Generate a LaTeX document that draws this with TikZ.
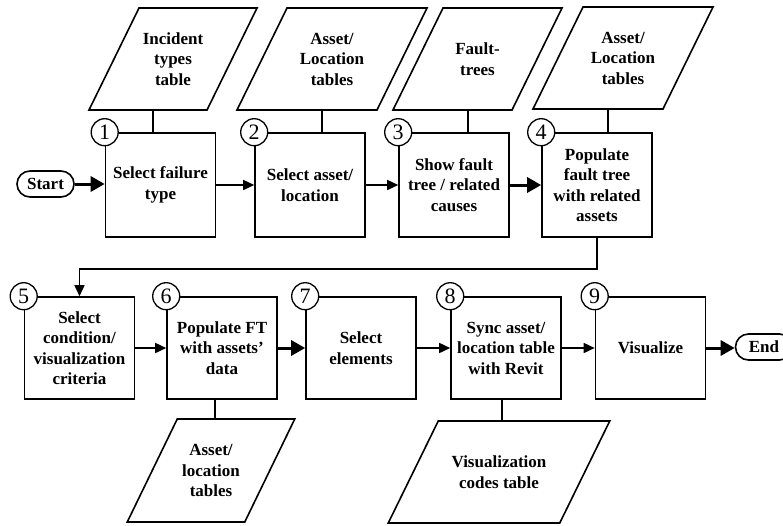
\documentclass[tikz,border=0pt]{standalone}
\usepackage{fontspec}
\setmainfont{Liberation Serif}
\usetikzlibrary{arrows.meta,shapes.misc}

\tikzset{
  stepbox/.style={draw, line width=1.6pt, minimum width=110pt, minimum height=104pt,
    align=center, inner sep=2pt, font=\bfseries\fontsize{17}{20.5}\selectfont},
  lowbox/.style={stepbox, minimum height=102pt},
  numcircle/.style={circle, draw, fill=white, line width=1.3pt, minimum size=27pt,
    inner sep=0pt, font=\fontsize{22}{22}\selectfont},
  terminal/.style={rounded rectangle, draw, line width=1.6pt, minimum width=61pt,
    minimum height=26pt, inner sep=2pt, font=\bfseries\fontsize{17}{20}\selectfont},
  slab/.style={draw, line width=1.6pt, line join=miter},
  slabtext/.style={align=center, inner sep=0pt, font=\bfseries\fontsize{17}{20.5}\selectfont},
  thinflow/.style={line width=1.6pt, -{Triangle[length=11pt,width=10pt]}},
  thickflow/.style={line width=3pt, -{Triangle[length=14pt,width=15pt]}},
  link/.style={line width=1.5pt},
}

% data store: a parallelogram with its label; #1 name, #2/#3 centre,
% #4 width of the top edge, #5 height, #6 label
\newcommand{\dataslab}[6]{%
  \draw[slab] (#2-#4/2+25, #3-#5/2) -- ++(#4,0) -- ++(-50,#5) -- ++(-#4,0) -- cycle;
  \node[slabtext] (#1) at (#2,#3) {#6};
}

\begin{document}
\begin{tikzpicture}[x=1pt, y=-1pt]
\useasboundingbox (0,0) rectangle (783,525);

% data stores
\dataslab{p1}{173}{59}{118}{102}{Incident\\types\\table}
\dataslab{p2}{332}{59}{140}{102}{Asset/\\Location\\tables}
\dataslab{p3}{477.5}{59}{119}{102}{Fault-\\trees}
\dataslab{p4}{623}{58}{130}{102}{Asset/\\Location\\tables}
\dataslab{p6}{211}{470.5}{117.5}{103}{Asset/\\location\\tables}
\dataslab{p8}{499}{472}{171.5}{102}{Visualization\\codes table}

% process steps, first row
\node[stepbox] (b1) at (160.5,185) {Select failure\\type};
\node[stepbox] (b2) at (310,185) {Select asset/\\location};
\node[stepbox] (b3) at (454,185) {Show fault\\tree / related\\causes};
\node[stepbox] (b4) at (597,185) {Populate\\fault tree\\with related\\assets};

% process steps, second row
\node[lowbox] (b5) at (79.5,348) {Select\\condition/\\visualization\\criteria};
\node[lowbox] (b6) at (222,348) {Populate FT\\with assets’\\data};
\node[lowbox] (b7) at (361,348) {Select\\elements};
\node[lowbox] (b8) at (506,348) {Sync asset/\\location table\\with Revit};
\node[lowbox] (b9) at (650.5,348) {Visualize};

% terminals
\node[terminal] (start) at (45.5,184) {Start};
\node[terminal] (end) at (764,347) {End};

% step numbers
\foreach \i in {1,...,9}
  \node[numcircle] (c\i) at (b\i.north west) {\i};

% links between data stores and steps
\coordinate (l1) at (153,110);
\coordinate (l2) at (322,110);
\coordinate (l3) at (468,110);
\coordinate (l4) at (608,109);
\coordinate (l6) at (215,419);
\coordinate (l8) at (502,421);
\draw[link] (l1) -- (l1 |- b1.north);
\draw[link] (l2) -- (l2 |- b2.north);
\draw[link] (l3) -- (l3 |- b3.north);
\draw[link] (l4) -- (l4 |- b4.north);
\draw[link] (l6) -- (l6 |- b6.south);
\draw[link] (l8) -- (l8 |- b8.south);

% flow
\draw[thickflow] (start.east) -- (start.east -| b1.west);
\draw[thinflow] (b1) -- (b2);
\draw[thinflow] (b2) -- (b3);
\draw[thickflow] (b3) -- (b4);
\draw[thinflow] (b4.south) -- ++(0,31) -| (b5.north);
\draw[thinflow] (b5) -- (b6);
\draw[thickflow] (b6) -- (b7);
\draw[thinflow] (b7) -- (b8);
\draw[thinflow] (b8) -- (b9);
\draw[thickflow] (b9.east) -- (b9.east -| end.west);
\end{tikzpicture}
\end{document}
